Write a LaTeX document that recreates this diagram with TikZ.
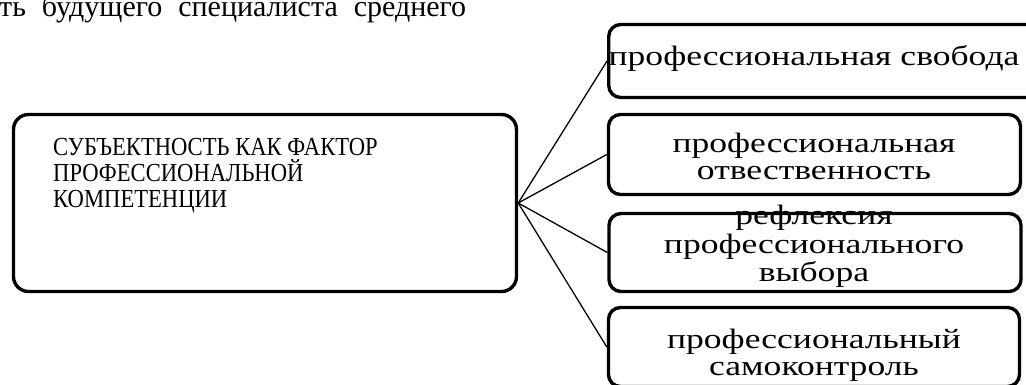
\documentclass[tikz,border=0pt]{standalone}
\usepackage{fontspec}
\setmainfont{Liberation Serif}
\newfontfamily\capsfont[FakeStretch=0.87]{Liberation Serif}
\newfontfamily\widefont[FakeStretch=1.27]{Liberation Serif}
\newcommand{\itemtextfont}{\widefont\fontsize{28}{27}\selectfont}
\begin{document}
\begin{tikzpicture}[x=1pt,y=-1pt,
  leftbox/.style={draw=black, line width=3.4pt, rounded corners=15pt, inner sep=0pt},
  itembox/.style={draw=black, line width=3.4pt, rounded corners=12pt, inner sep=0pt},
  wire/.style={draw=black, line width=1.3pt},
  label/.style={inner sep=0pt, anchor=base}]
\useasboundingbox (0,0) rectangle (1026,385);

% line of body text above the scheme
\node[inner sep=0pt, anchor=base west] (head) at (-1,16.5)
  {\fontsize{30}{32}\selectfont\makebox[467pt][s]{ть будущего специалиста среднего}};

% main box
\node[leftbox, minimum width=503pt, minimum height=177pt] (main) at (265,203) {};
\node[inner sep=0pt, anchor=base west] (maintext) at (53,156)
  {\parbox[t]{420pt}{\raggedright\capsfont\fontsize{26}{26}\selectfont
   СУБЪЕКТНОСТЬ КАК ФАКТОР\\ПРОФЕССИОНАЛЬНОЙ\\КОМПЕТЕНЦИИ}};

% component boxes
\node[itembox, minimum width=436pt, minimum height=73pt] (b1) at (826.75,61) {};
\node[itembox, minimum width=412pt, minimum height=80pt] (b2) at (814.5,154.5) {};
\node[itembox, minimum width=412pt, minimum height=78pt] (b3) at (815,252.5) {};
\node[itembox, minimum width=411pt, minimum height=79pt] (b4) at (814,347) {};

\node[label] (t1) at (814,66) {\parbox[t]{420pt}{\centering\itemtextfont
  профессиональная свобода}};
\node[label] (t2) at (814,153) {\parbox[t]{400pt}{\centering\itemtextfont
  профессиональная\\отвественность}};
\node[label] (t3) at (814,225) {\parbox[t]{400pt}{\centering\itemtextfont
  \baselineskip=28.5pt рефлексия\\профессионального\\выбора}};
\node[label] (t4) at (814,348) {\parbox[t]{400pt}{\centering\itemtextfont
  профессиональный\\самоконтроль}};

% connectors
\draw[wire] (main.east) -- (b1.west);
\draw[wire] (main.east) -- (b2.west);
\draw[wire] (main.east) -- (b3.west);
\draw[wire] (main.east) -- (b4.west);
\end{tikzpicture}
\end{document}
